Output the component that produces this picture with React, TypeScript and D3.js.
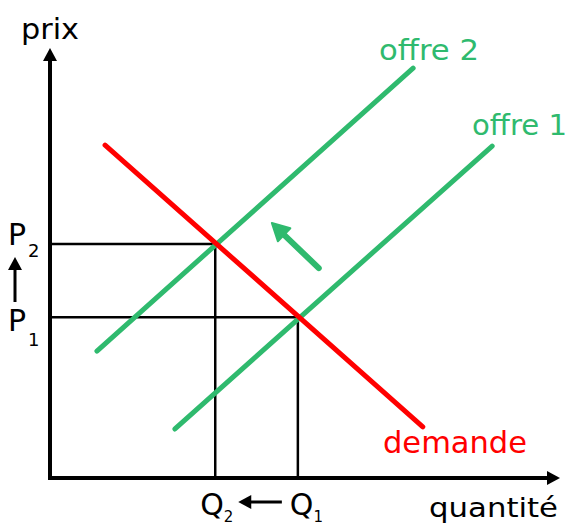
import React from "react";
import * as d3 from "d3";

// Data (abstract units: quantity 0..10, price 0..10)
const demande: [number, number][] = [[1.08, 7.74], [7.31, 1.19]];
const offre1: [number, number][] = [[2.45, 1.14], [8.67, 7.72]];
const offre2: [number, number][] = [[0.92, 2.95], [7.12, 9.53]];
const equilibres = [
  { name: "1", q: 4.86, p: 3.74 },
  { name: "2", q: 3.24, p: 5.44 },
];
const shiftArrow: [number, number][] = [[5.27, 4.88], [4.35, 5.93]];

const W = 569, H = 526;
const GREEN = "#2fba6e";
const RED = "#ff0000";
const FONT = "'DejaVu Sans', sans-serif";

export default function App() {
  const x = d3.scaleLinear().domain([0, 10]).range([50, 560]);
  const y = d3.scaleLinear().domain([0, 10]).range([478, 48]);
  const line = d3.line<[number, number]>().x(d => x(d[0])).y(d => y(d[1]));

  const x0 = x(0), y0 = y(0);
  const ax = x(shiftArrow[0][0]), ay = y(shiftArrow[0][1]);
  const bx = x(shiftArrow[1][0]), by = y(shiftArrow[1][1]);
  const ang = Math.atan2(by - ay, bx - ax);
  const hl = 17, hw = 9;
  const baseX = bx - hl * Math.cos(ang), baseY = by - hl * Math.sin(ang);
  const px = -Math.sin(ang), py = Math.cos(ang);
  const head = `M${bx},${by}L${baseX + hw * px},${baseY + hw * py}L${baseX - hw * px},${baseY - hw * py}Z`;

  const e1 = equilibres[0], e2 = equilibres[1];
  const qOffset: Record<string, number> = { "1": -8, "2": -15 };

  return (
    <svg width={W} height={H} style={{ position: "absolute", left: 0, top: 0 }}>
      {/* guide lines */}
      {equilibres.map(e => (
        <g key={e.name}>
          <line x1={x0} x2={x(e.q)} y1={y(e.p)} y2={y(e.p)} stroke="#000" strokeWidth={2.5} />
          <line x1={x(e.q)} x2={x(e.q)} y1={y(e.p)} y2={y0} stroke="#000" strokeWidth={2.5} />
        </g>
      ))}
      {/* curves */}
      <path d={line(offre2)!} stroke={GREEN} strokeWidth={5} strokeLinecap="round" fill="none" />
      <path d={line(offre1)!} stroke={GREEN} strokeWidth={5} strokeLinecap="round" fill="none" />
      <path d={line(demande)!} stroke={RED} strokeWidth={5} strokeLinecap="round" fill="none" />
      {/* shift arrow */}
      <line x1={ax} y1={ay} x2={baseX} y2={baseY} stroke={GREEN} strokeWidth={6} strokeLinecap="round" />
      <path d={head} fill={GREEN} stroke={GREEN} strokeWidth={2} strokeLinejoin="round" />
      {/* axes */}
      <line x1={x0} y1={y0 + 2} x2={x0} y2={y(10) + 10} stroke="#000" strokeWidth={4} />
      <path d={`M${x0},${y(10)}L${x0 - 7},${y(10) + 13}L${x0 + 7},${y(10) + 13}Z`} fill="#000" />
      <line x1={x0 - 2} y1={y0} x2={x(10) - 10} y2={y0} stroke="#000" strokeWidth={4} />
      <path d={`M${x(10)},${y0}L${x(10) - 13},${y0 - 7}L${x(10) - 13},${y0 + 7}Z`} fill="#000" />
      {/* labels */}
      <text x={21} y={39} fontFamily={FONT} fontSize={29} textLength={58} lengthAdjust="spacingAndGlyphs" fill="#000">prix</text>
      <text x={429} y={517} fontFamily={FONT} fontSize={27} textLength={129} lengthAdjust="spacingAndGlyphs" fill="#000">quantité</text>
      <text x={379} y={60} fontFamily={FONT} fontSize={29} textLength={100} lengthAdjust="spacingAndGlyphs" fill={GREEN}>offre 2</text>
      <text x={472} y={135} fontFamily={FONT} fontSize={29} textLength={95} lengthAdjust="spacingAndGlyphs" fill={GREEN}>offre 1</text>
      <text x={383} y={453} fontFamily={FONT} fontSize={31} textLength={144} lengthAdjust="spacingAndGlyphs" fill={RED}>demande</text>
      {/* price labels */}
      {equilibres.map(e => (
        <text key={"p" + e.name} x={8} y={e.name === "1" ? 331 : 245} fontFamily={FONT} fontSize={30} fill="#000">
          P<tspan fontSize={18} dx={2} dy={e.name === "1" ? 15 : 12}>{e.name}</tspan>
        </text>
      ))}
      {/* quantity labels */}
      {equilibres.map(e => (
        <text key={"q" + e.name} x={x(e.q) + qOffset[e.name]} y={515} fontFamily={FONT} fontSize={30} fill="#000">
          Q<tspan fontSize={15} dx={0} dy={7}>{e.name}</tspan>
        </text>
      ))}
      {/* small direction arrows */}
      <line x1={15} y1={302} x2={15} y2={266} stroke="#000" strokeWidth={3} />
      <path d={`M15,257L8,270L22,270Z`} fill="#000" />
      <line x1={x(e1.q) - 16} y1={502} x2={x(e2.q) + 32} y2={502} stroke="#000" strokeWidth={3} />
      <path d={`M${x(e2.q) + 23},502L${x(e2.q) + 36},495L${x(e2.q) + 36},509Z`} fill="#000" />
    </svg>
  );
}
